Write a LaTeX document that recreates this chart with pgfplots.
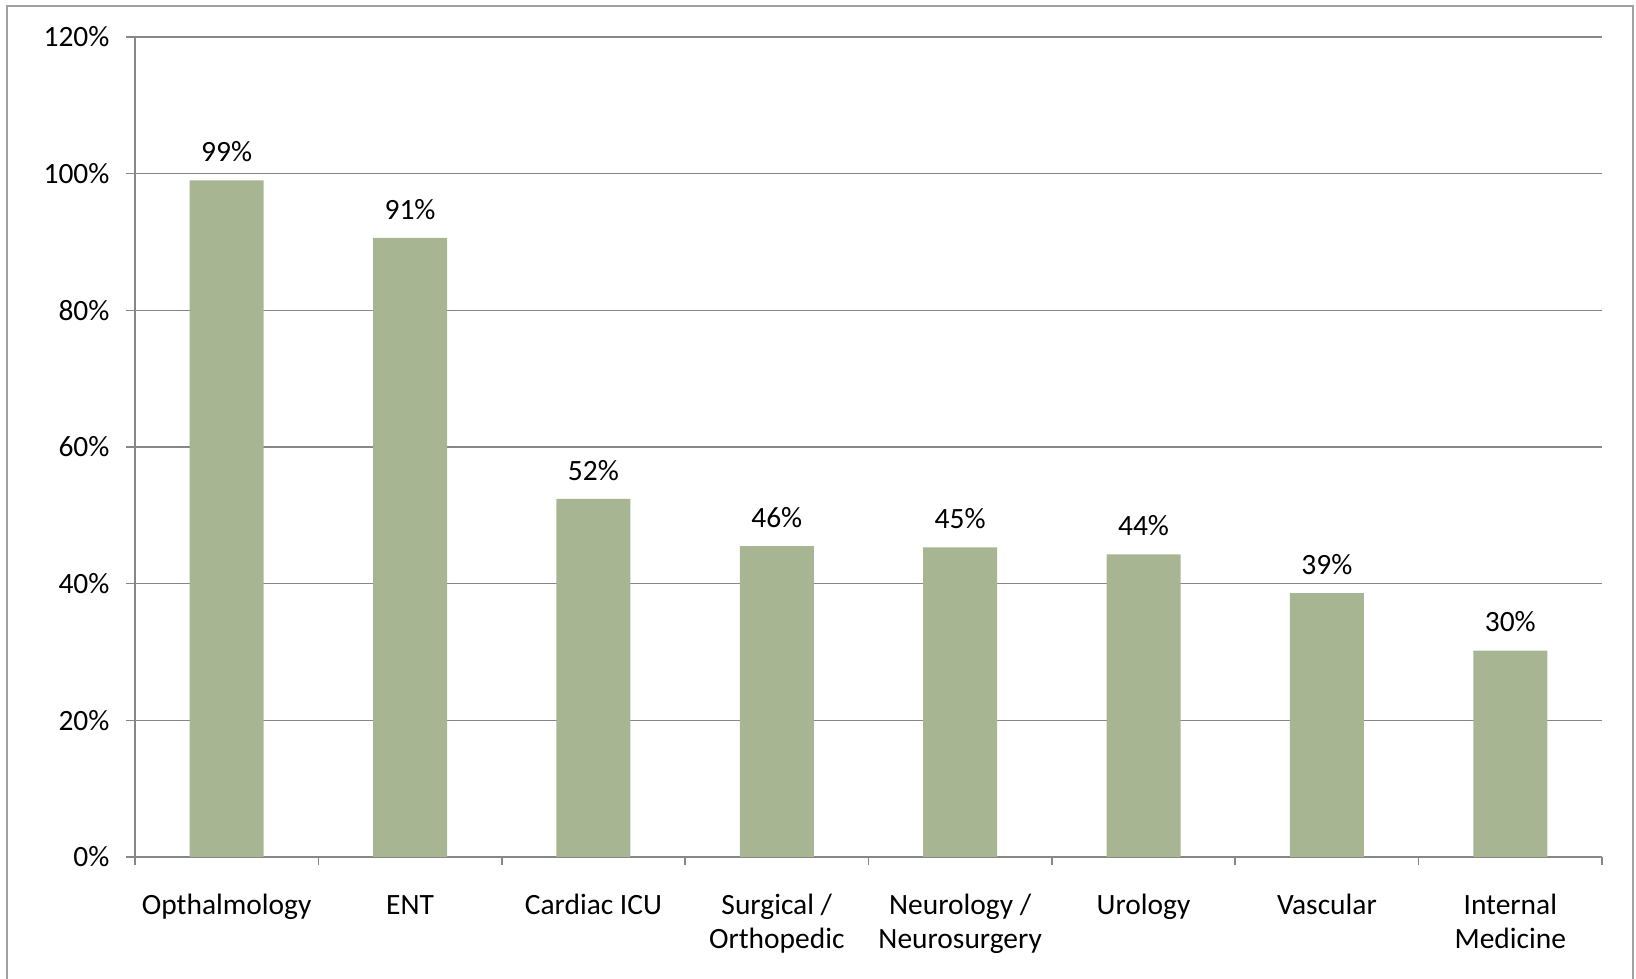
\documentclass[border=0pt]{standalone}
\usepackage{pgfplots}
\pgfplotsset{compat=1.18}
\usepackage{pgfplotstable}
\usepackage{fontspec}
\setmainfont{Carlito}
\definecolor{barcol}{HTML}{A7B592}
\definecolor{gridcol}{HTML}{878787}
\definecolor{framecol}{HTML}{A0A0A0}
\def\u{0.37pt}

\pgfplotstableread{
x y lab
0 99.0 99
1 90.6 91
2 52.4 52
3 45.5 46
4 45.3 45
5 44.3 44
6 38.6 39
7 30.2 30
}\data

\begin{document}
\fontsize{10.9}{12.6}\selectfont
\begin{tikzpicture}
\begin{axis}[
  name=ax,
  at={(0,0)}, anchor=south west,
  scale only axis,
  width=1467*\u, height=820*\u,
  xmin=-0.5, xmax=7.5,
  ymin=0, ymax=120,
  ybar, bar width=74*\u, bar shift=0pt,
  axis x line*=bottom, axis y line*=left,
  axis line style={gridcol, line width=0.6pt},
  xtick={0,...,7},
  xticklabels={\strut Opthalmology, \strut ENT, \strut Cardiac ICU, \strut Surgical /\\Orthopedic,
    \strut Neurology /\\Neurosurgery, \strut Urology, \strut Vascular, \strut Internal\\Medicine},
  major x tick style={draw=none},
  minor xtick={-0.5,0.5,...,7.5},
  minor x tick style={gridcol, line width=0.6pt},
  minor tick length=8*\u,
  xticklabel style={anchor=north, inner sep=0pt, align=center, yshift=-24*\u,
    font=\fontsize{10.9}{12.6}\selectfont},
  ytick={0,20,...,120},
  yticklabel={\pgfmathprintnumber[assume math mode=true]{\tick}\%},
  yticklabel style={anchor=east, inner sep=0pt, xshift=-16*\u},
  major y tick style={gridcol, line width=0.6pt},
  major tick length=9*\u,
  tick align=outside,
  ymajorgrids,
  major grid style={gridcol, line width=0.6pt},
  nodes near coords={\pgfplotspointmeta\%},
  point meta=explicit symbolic,
  every node near coord/.append style={anchor=south, inner sep=0pt, yshift=18*\u, black},
  clip=false,
]
\addplot[fill=barcol, draw=none] table[x=x, y=y, meta=lab]{\data};
\end{axis}
\draw[framecol, line width=0.8pt] (-128*\u,-140*\u) rectangle (1498*\u,851*\u);
\pgfresetboundingbox
\path[use as bounding box] (-135*\u,-122*\u) rectangle (1501*\u,857*\u);
\end{tikzpicture}
\end{document}
